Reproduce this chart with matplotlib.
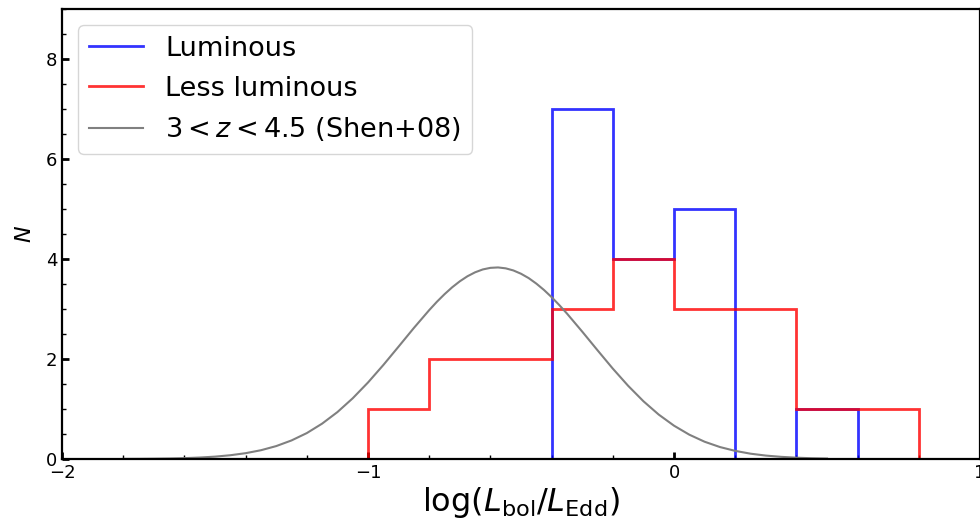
import numpy as np
import matplotlib.pyplot as plt
from matplotlib.ticker import MultipleLocator
from matplotlib.lines import Line2D

# bin edges of the histograms (log Eddington ratio)
bin_edges = [-1.0, -0.8, -0.6, -0.4, -0.2, 0.0, 0.2, 0.4, 0.6, 0.8, 1.0]
luminous_counts = [0, 0, 0, 7, 4, 5, 0, 1, 0, 0]
less_luminous_counts = [1, 2, 2, 3, 4, 3, 3, 1, 1, 0]

# Shen+08 distribution, values
shen_x = [-1.80, -1.75, -1.70, -1.65, -1.60, -1.55, -1.50, -1.45, -1.40, -1.35,
          -1.30, -1.25, -1.20, -1.15, -1.10, -1.05, -1.00, -0.95, -0.90, -0.85,
          -0.80, -0.775, -0.75, -0.725, -0.70, -0.675, -0.65, -0.625, -0.60,
          -0.575, -0.55, -0.525, -0.50, -0.475, -0.45, -0.425, -0.40, -0.375,
          -0.35, -0.30, -0.25, -0.20, -0.15, -0.10, -0.05, 0.00, 0.05, 0.10,
          0.15, 0.20, 0.25, 0.30, 0.35, 0.40, 0.45, 0.50]
shen_y = [0.002, 0.003, 0.006, 0.010, 0.017, 0.029, 0.047, 0.075, 0.116, 0.175,
          0.258, 0.371, 0.518, 0.707, 0.938, 1.214, 1.530, 1.879, 2.248, 2.621,
          2.977, 3.143, 3.295, 3.433, 3.553, 3.654, 3.733, 3.790, 3.822,
          3.830, 3.812, 3.770, 3.704, 3.617, 3.507, 3.380, 3.236, 3.078,
          2.909, 2.547, 2.174, 1.807, 1.464, 1.155, 0.888, 0.666, 0.486, 0.345,
          0.239, 0.162, 0.106, 0.068, 0.043, 0.026, 0.015, 0.009]

fig = plt.figure(figsize=(9.8, 5.23), dpi=100)
ax = fig.add_axes([0.0633, 0.1224, 0.9367, 0.8606])

centers = 0.5 * (np.array(bin_edges[:-1]) + np.array(bin_edges[1:]))
ax.hist(centers, bins=bin_edges, weights=luminous_counts, histtype='step',
        color='blue', alpha=0.8, linewidth=2, label='Luminous')
ax.hist(centers, bins=bin_edges, weights=less_luminous_counts, histtype='step',
        color='red', alpha=0.8, linewidth=2, label='Less luminous')
ax.plot(shen_x, shen_y, color='gray', linewidth=1.5,
        label=r'$3 < z < 4.5$ (Shen+08)')

ax.set_xlim(-2, 1)
ax.set_ylim(0, 9)
ax.xaxis.set_major_locator(MultipleLocator(1))
ax.xaxis.set_minor_locator(MultipleLocator(0.2))
ax.yaxis.set_major_locator(MultipleLocator(2))
ax.yaxis.set_minor_locator(MultipleLocator(0.5))
ax.tick_params(which='major', direction='in', length=5, width=2, labelsize=13)
ax.tick_params(which='minor', direction='in', length=3, width=1)
for s in ax.spines.values():
    s.set_linewidth(1.6)

ax.set_xlabel(r'$\log(L_{\rm bol}/L_{\rm Edd})$', fontsize=23, labelpad=2)
ax.set_ylabel(r'$N$', fontsize=16, labelpad=8)

labels = ['Luminous', 'Less luminous', r'$3 < z < 4.5$ (Shen+08)']
handles = [Line2D([], [], color='blue', alpha=0.8, lw=2),
           Line2D([], [], color='red', alpha=0.8, lw=2),
           Line2D([], [], color='gray', lw=1.5)]
ax.legend(handles, labels, loc='upper left', fontsize=19.5, handlelength=2.0,
          borderaxespad=0.6)

plt.savefig('out.png', dpi=100)
